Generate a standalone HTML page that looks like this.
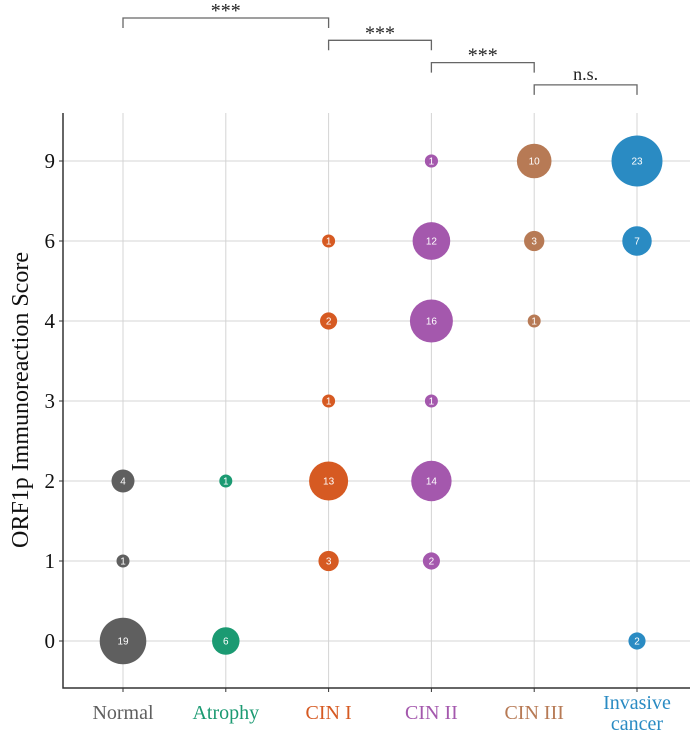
<!DOCTYPE html>
<html><head><meta charset="utf-8"><style>
body{margin:0;background:#fff;}
svg text{font-family:"Liberation Serif",serif;}
</style></head><body>
<svg id="chart" width="700" height="741" xmlns="http://www.w3.org/2000/svg">
<g id="grid"></g><g id="marks"></g><g id="axes"></g><g id="sig"></g>
</svg>
<script>
const categories=["Normal","Atrophy","CIN I","CIN II","CIN III","Invasive cancer"];
const catColors=["#5f5f5f","#1b9a72","#d65a22","#a458ad","#b77a55","#2a8bc3"];
const yLevels=["0","1","2","3","4","6","9"];
const pointCat=[0,0,0,1,1,2,2,2,2,2,3,3,3,3,3,3,3,4,4,4,5,5,5];
const pointY=["0","1","2","0","2","1","2","3","4","6","1","2","3","4","6","9","9","4","6","9","0","6","9"];
const pointN=[19,1,4,6,1,3,13,1,2,1,2,14,1,16,12,1,1,1,3,10,2,7,23];
const sigPairs=[[0,2],[2,3],[3,4],[4,5]];
const sigLabels=["***","***","***","n.s."];
const NS="http://www.w3.org/2000/svg";
const xOf=i=>123+i*102.8;
const yOf=v=>641-yLevels.indexOf(v)*80;
const rOf=n=>1.5+5*Math.sqrt(n);
function mk(tag,attrs,parent){const e=document.createElementNS(NS,tag);for(const k in attrs)e.setAttribute(k,attrs[k]);parent.appendChild(e);return e;}
const grid=document.getElementById('grid'),marks=document.getElementById('marks'),axes=document.getElementById('axes'),sig=document.getElementById('sig');
categories.forEach((c,i)=>{const l=mk('line',{x1:xOf(i),x2:xOf(i),y1:113,y2:688,stroke:'#d4d4d4','stroke-width':1},grid);

});
yLevels.forEach(v=>{const l=mk('line',{x1:63,x2:690,y1:yOf(v),y2:yOf(v),stroke:'#d4d4d4','stroke-width':1},grid);

});
pointN.forEach((n,i)=>{const x=xOf(pointCat[i]),y=yOf(pointY[i]);
const c=mk('circle',{cx:x,cy:y,r:rOf(n),fill:catColors[pointCat[i]]},marks);


const t=mk('text',{x:x,y:y+3.5,'text-anchor':'middle',fill:'#fff','font-size':10},marks);
t.setAttribute('style','font-family:"Liberation Sans",sans-serif');


t.textContent=n;});
const ax=mk('path',{d:'M63 113V688H690',fill:'none',stroke:'#333','stroke-width':1.5},axes);


yLevels.forEach(v=>{mk('line',{x1:59,x2:63,y1:yOf(v),y2:yOf(v),stroke:'#333'},axes);
const t=mk('text',{x:55,y:yOf(v)+7,'text-anchor':'end','font-size':21,fill:'#111'},axes);


t.textContent=v;});
categories.forEach((c,i)=>{mk('line',{x1:xOf(i),x2:xOf(i),y1:688,y2:692,stroke:'#333'},axes);
const t=mk('text',{x:xOf(i),y:719,'text-anchor':'middle','font-size':20,fill:catColors[i]},axes);


if(c==="Invasive cancer"){t.setAttribute('y',709);mk('tspan',{x:xOf(i)},t).textContent="Invasive";mk('tspan',{x:xOf(i),dy:21},t).textContent="cancer";}
else t.textContent=c;});
const yt=mk('text',{x:0,y:0,transform:'translate(28,400) rotate(-90)','text-anchor':'middle','font-size':24,fill:'#111'},axes);


yt.setAttribute('xml:space','preserve');
yt.textContent="ORF1p Immunoreaction  Score";
sigPairs.forEach((p,k)=>{const y=18+k*22.3,x1=xOf(p[0]),x2=xOf(p[1]);
const b=mk('path',{d:`M${x1} ${y+10}V${y}H${x2}V${y+10}`,fill:'none',stroke:'#666','stroke-width':1.3},sig);


const t=mk('text',{x:(x1+x2)/2,y:sigLabels[k]==="n.s."?y-5:y-1,'text-anchor':'middle','font-size':sigLabels[k]==="n.s."?18:20,fill:'#222'},sig);


t.textContent=sigLabels[k];});
</script>
</body></html>
